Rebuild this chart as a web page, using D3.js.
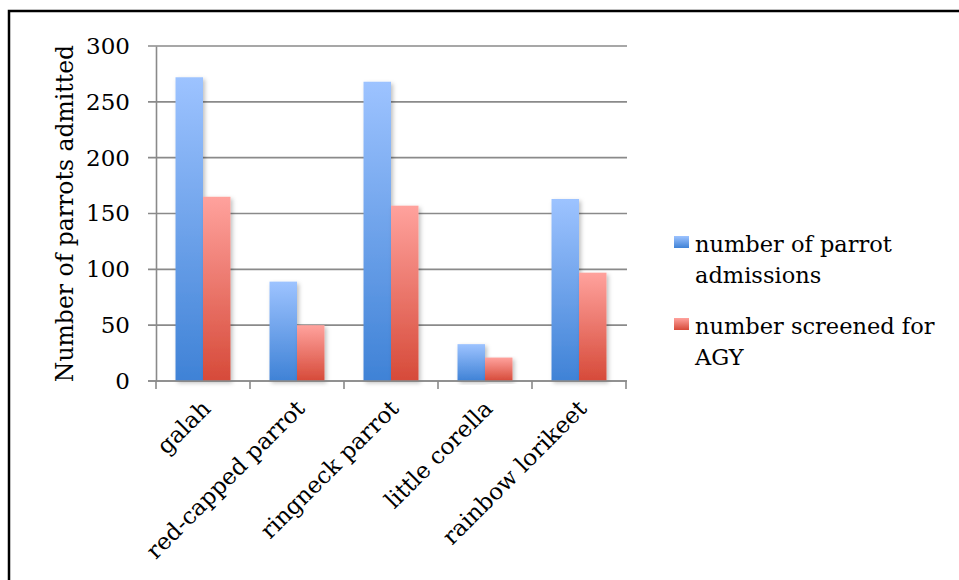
<!DOCTYPE html>
<html>
<head>
<meta charset="utf-8">
<script src="https://cdn.jsdelivr.net/npm/d3@7"></script>
<style>
  body { margin: 0; background: #fff; }
  svg { display: block; }
  text { font-family: "DejaVu Serif", serif; fill: #000; }
</style>
</head>
<body>
<div id="chart"></div>
<script>
// chart data
const categories = ["galah", "red-capped parrot", "ringneck parrot", "little corella", "rainbow lorikeet"];
const admissions = [272, 89, 268, 33, 163];
const screened = [165, 50, 157, 21, 97];
const seriesNames = ["number of parrot admissions", "number screened for AGY"];
const legendLines = [["number of parrot", "admissions"], ["number screened for", "AGY"]];
const yTicks = [0, 50, 100, 150, 200, 250, 300];

const width = 959, height = 580;
const plotLeft = 156, plotRight = 626, plotTop = 46, plotBottom = 381;

let svg = d3.select("#chart").append("svg")
    .attr("width", width)
    .attr("height", height);

let defs = svg.append("defs");

function grad(id, light, dark) {
    let g = defs.append("linearGradient")
        .attr("id", id)
        .attr("x1", 0).attr("y1", 0)
        .attr("x2", 0).attr("y2", 1);
    g.append("stop").attr("offset", "0%").attr("stop-color", light);
    g.append("stop").attr("offset", "100%").attr("stop-color", dark);
}
grad("blueGrad", "#9dc3ff", "#3f82d6");
grad("redGrad", "#ffa29d", "#d64a39");

let shadow = defs.append("filter").attr("id", "shadow")
    .attr("x", "-20%").attr("y", "-5%").attr("width", "150%").attr("height", "115%");
shadow.append("feDropShadow")
    .attr("dx", 2).attr("dy", 2).attr("stdDeviation", 2)
    .attr("flood-color", "#000").attr("flood-opacity", 0.25);

// frame
svg.append("rect")
    .attr("x", 9).attr("y", 11)
    .attr("width", width + 10).attr("height", height + 10)
    .attr("fill", "none")
    .attr("stroke", "#000")
    .attr("stroke-width", 2.5);

let y = d3.scaleLinear().domain([0, 300]).range([plotBottom, plotTop]);

let x = d3.scaleBand().domain(categories).range([plotLeft, plotRight]).padding(0);

let xInner = d3.scaleBand().domain(seriesNames)
    .range([0, x.bandwidth()])
    .paddingInner(0)
    .paddingOuter(0.71);

// gridlines
svg.append("g")
    .selectAll("line")
    .data(yTicks)
    .enter()
    .append("line")
    .attr("x1", plotLeft - 8)
    .attr("x2", plotRight + 1)
    .attr("y1", d => y(d))
    .attr("y2", d => y(d))
    .attr("stroke", "#8a8a8a")
    .attr("stroke-width", 1.6);

// y axis
let yAxis = svg.append("g")
    .attr("transform", "translate(" + plotLeft + ",0)")
    .call(d3.axisLeft(y).tickValues(yTicks).tickSize(0).tickPadding(26));
yAxis.select(".domain").attr("stroke", "#8a8a8a").attr("stroke-width", 1.6);
yAxis.selectAll("text")
    .style("font-family", "DejaVu Serif")
    .style("font-size", "23px")
    .attr("fill", "#000");

// bars
const seriesData = [admissions, screened];
const fills = ["url(#blueGrad)", "url(#redGrad)"];

seriesData.forEach(function (vals, s) {
    svg.append("g")
        .selectAll("rect")
        .data(vals)
        .enter()
        .append("rect")
        .attr("x", (d, i) => x(categories[i]) + xInner(seriesNames[s]))
        .attr("y", d => y(d))
        .attr("width", xInner.bandwidth())
        .attr("height", d => y(0) - y(d))
        .attr("fill", fills[s])
        .attr("filter", "url(#shadow)");
});

// x axis
let xAxis = svg.append("g")
    .attr("transform", "translate(0," + plotBottom + ")");
xAxis.append("line")
    .attr("x1", plotLeft - 8).attr("x2", plotRight + 1)
    .attr("stroke", "#8a8a8a").attr("stroke-width", 1.6);
let xTickPos = categories.map(c => x(c)).concat([plotRight]);
xAxis.selectAll(".tick")
    .data(xTickPos)
    .enter()
    .append("line")
    .attr("x1", d => d).attr("x2", d => d)
    .attr("y1", 0).attr("y2", 8)
    .attr("stroke", "#8a8a8a").attr("stroke-width", 1.6);

svg.append("g")
    .selectAll("text")
    .data(categories)
    .enter()
    .append("text")
    .attr("transform", d => "translate(" + (x(d) + x.bandwidth() / 2 + 9) + "," + 410 + ") rotate(-45)")
    .attr("text-anchor", "end")
    .style("font-size", "23px")
    .text(d => d);

// y title
svg.append("text")
    .attr("transform", "translate(73," + ((plotTop + plotBottom) / 2) + ") rotate(-90)")
    .attr("text-anchor", "middle")
    .style("font-size", "23.5px")
    .text("Number of parrots admitted");

// legend
const legendY = [236, 318];
let legend = svg.append("g");
legendLines.forEach(function (lines, i) {
    legend.append("rect")
        .attr("x", 674).attr("y", legendY[i])
        .attr("width", 15).attr("height", 12)
        .attr("fill", fills[i]);
    let t = legend.append("text")
        .attr("x", 695)
        .attr("y", legendY[i] + 16)
        .style("font-size", "22.5px");
    lines.forEach(function (line, j) {
        t.append("tspan")
            .attr("x", 695)
            .attr("dy", j === 0 ? 0 : 31)
            .text(line);
    });
});
</script>
</body>
</html>
